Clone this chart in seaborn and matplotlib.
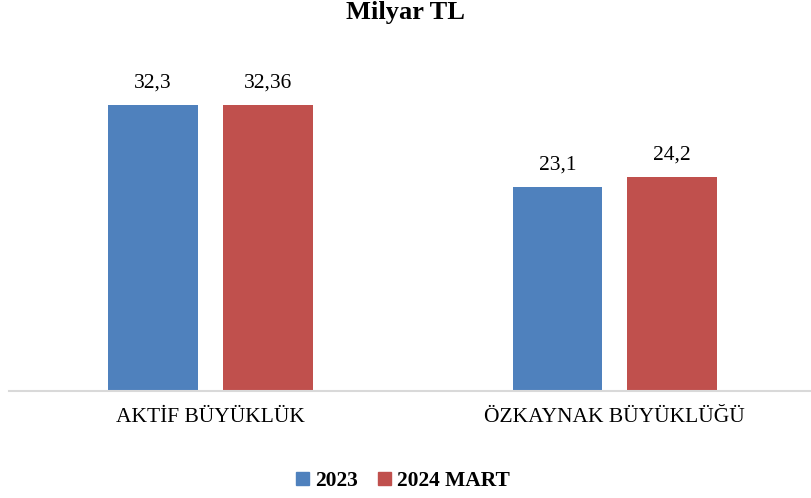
import pandas as pd
import seaborn as sns
import matplotlib.pyplot as plt

categories = ['AKTİF BÜYÜKLÜK', 'ÖZKAYNAK BÜYÜKLÜĞÜ']
series = ['2023', '2024 MART']
values_2023 = [32.3, 23.1]
values_2024 = [32.36, 24.2]
labels_2023 = ['32,3', '23,1']
labels_2024 = ['32,36', '24,2']
colors = ['#4F81BD', '#C0504D']

df = pd.DataFrame({
    'kategori': categories * 2,
    'seri': [series[0]] * 2 + [series[1]] * 2,
    'deger': values_2023 + values_2024,
})

sns.set_style('white')
plt.rcParams['font.family'] = ['Liberation Serif', 'DejaVu Serif']
plt.rcParams['text.color'] = 'black'
plt.rcParams['xtick.color'] = 'black'

fig = plt.figure(figsize=(8.11, 4.98), dpi=100)
ax = fig.add_axes([9 / 811, 107 / 498, 802 / 811, 331 / 498])

sns.barplot(data=df, x='kategori', y='deger', hue='seri', palette=colors,
            width=0.568, gap=0.218, saturation=1, linewidth=0, ax=ax, legend=False)

########### value labels
for cont, labs in zip(ax.containers, [labels_2023, labels_2024]):
    ax.bar_label(cont, labels=labs, padding=9, fontsize=15.5, color='black')

ax.set_xlim(-0.498, 1.485)
ax.set_ylim(0, 37.4)
ax.set_xlabel('')
ax.set_ylabel('')
ax.set_yticks([])
ax.tick_params(axis='x', length=0, pad=12, labelsize=15.5, labelcolor='black')
for s in ['top', 'right', 'left']:
    ax.spines[s].set_visible(False)
ax.spines['bottom'].set_color('#D9D9D9')
ax.spines['bottom'].set_linewidth(1.5)

########### title and legend
fig.text(0.5, 1 - 13 / 498, 'Milyar TL', ha='center', va='center',
         fontsize=19, fontweight='bold', color='black')

handles = [plt.Rectangle((0, 0), 1, 1, color=c) for c in colors]
fig.legend(handles, series, loc='center', bbox_to_anchor=(0.497, 1 - 481 / 498),
           ncol=2, frameon=False, handlelength=0.6, handleheight=0.6,
           handletextpad=0.3, columnspacing=0.9,
           prop={'weight': 'bold', 'size': 15.5})

fig.savefig('out.png', dpi=100)
